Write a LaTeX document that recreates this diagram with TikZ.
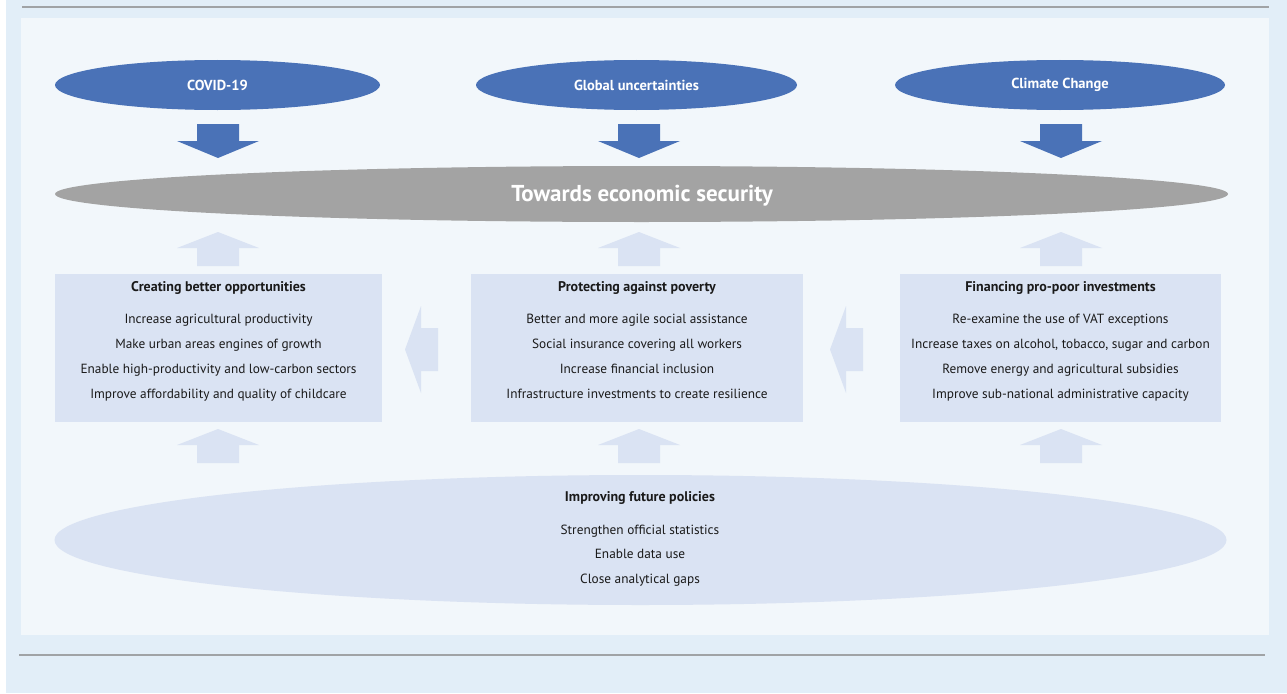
\documentclass[tikz,border=0pt]{standalone}
\usepackage{fontspec}
\setmainfont{PT Sans}
\usetikzlibrary{shapes.geometric}
\definecolor{outerbg}{HTML}{E2EEF8}
\definecolor{innerbg}{HTML}{F2F7FB}
\definecolor{ovblue}{HTML}{4A72B7}
\definecolor{ovgray}{HTML}{A3A3A3}
\definecolor{lightbox}{HTML}{DAE3F3}
\definecolor{rulegray}{HTML}{A0A3A6}
\definecolor{txt}{HTML}{1A1A1A}
\tikzset{
  blueoval/.style={ellipse, fill=ovblue, inner sep=0pt, minimum height=50pt, text=white, font=\bfseries\fontsize{14.5}{17}\selectfont},
  grayoval/.style={ellipse, fill=ovgray, inner sep=0pt, minimum width=1173pt, minimum height=56pt},
  graytxt/.style={inner sep=0pt, text=white, font=\bfseries\fontsize{23}{27}\selectfont, text height=16pt, text depth=5pt},
  lightoval/.style={ellipse, fill=lightbox, inner sep=0pt, minimum width=1172pt, minimum height=130pt},
  pbox/.style={rectangle, fill=lightbox, inner sep=0pt, minimum height=148pt},
  titletxt/.style={inner sep=0pt, text=txt, font=\bfseries\fontsize{14}{16}\selectfont, text height=10pt, text depth=3pt},
  itemtxt/.style={inner sep=0pt, text=txt, font=\fontsize{13.3}{16}\selectfont, text height=9.5pt, text depth=3pt},
  darrow/.style={fill=ovblue},
  larrow/.style={fill=lightbox},
}
\newcommand{\downarr}[1]{\fill[darrow] (#1-21,124) -- (#1+21,124) -- (#1+21,141) -- (#1+41,141) -- (#1,158) -- (#1-41,141) -- (#1-21,141) -- cycle;}
\newcommand{\uparr}[2]{\fill[larrow] (#1-21,#2+34) -- (#1+21,#2+34) -- (#1+21,#2+16) -- (#1+41,#2+16) -- (#1,#2) -- (#1-41,#2+16) -- (#1-21,#2+16) -- cycle;}
\newcommand{\leftarr}[1]{\fill[larrow] (#1,349.5) -- (#1+16,306) -- (#1+16,328) -- (#1+33,328) -- (#1+33,371) -- (#1+16,371) -- (#1+16,393) -- cycle;}
\begin{document}
\begin{tikzpicture}[x=1pt,y=-1pt]
\useasboundingbox (0,0) rectangle (1287,693);
% backgrounds
\fill[outerbg] (6,0) rectangle (1287,693);
\fill[innerbg] (21,18) rectangle (1269,635);
\draw[rulegray, line width=1.4pt] (22,7) -- (1269,7);
\draw[rulegray, line width=1.4pt] (19,655) -- (1265,655);
% top ovals
\node[blueoval, minimum width=325pt] (covid) at (217.5,85) {COVID-19};
\node[blueoval, minimum width=321pt] (glob) at (636.5,85) {Global uncertainties};
\node[blueoval, minimum width=330pt] (clim) at (1060,85) {Climate Change};
% down arrows
\downarr{218}
\downarr{639}
\downarr{1061}
% central oval
\node[grayoval] (sec) at (641.5,194) {};
\node[graytxt] (sect) at (642,196) {Towards economic security};
% up arrows to central oval
\uparr{218}{232}
\uparr{639}{232}
\uparr{1061}{232}
% boxes
\node[pbox, minimum width=327pt] (b1) at (218.5,348) {};
\node[pbox, minimum width=332pt] (b2) at (637,348) {};
\node[pbox, minimum width=321pt] (b3) at (1060.5,348) {};
% left arrows
\leftarr{405}
\leftarr{830}
% box texts
\node[titletxt] (b1t) at (218.5,288) {Creating better opportunities};
\foreach \t [count=\i] in {Increase agricultural productivity, Make urban areas engines of growth, Enable high-productivity and low-carbon sectors, Improve affordability and quality of childcare}
  \node[itemtxt] (b1l\i) at (218.5,295.5+25*\i) {\t};
\node[titletxt] (b2t) at (637,288) {Protecting against poverty};
\foreach \t [count=\i] in {Better and more agile social assistance, Social insurance covering all workers, Increase financial inclusion, Infrastructure investments to create resilience}
  \node[itemtxt] (b2l\i) at (637,295.5+25*\i) {\t};
\node[titletxt] (b3t) at (1060.5,288) {Financing pro-poor investments};
\foreach \t [count=\i] in {Re-examine the use of VAT exceptions, {Increase taxes on alcohol, tobacco, sugar and carbon}, Remove energy and agricultural subsidies, Improve sub-national administrative capacity}
  \node[itemtxt] (b3l\i) at (1060.5,295.5+25*\i) {\t};
% bottom up arrows
\uparr{218}{429}
\uparr{639}{429}
\uparr{1061}{429}
% bottom oval
\node[lightoval] (fut) at (640.5,540) {};
\node[titletxt] (futt) at (640,498) {Improving future policies};
\node[itemtxt] (fut1) at (640,531.5) {Strengthen official statistics};
\node[itemtxt] (fut2) at (640,555.5) {Enable data use};
\node[itemtxt] (fut3) at (640,580.5) {Close analytical gaps};
\end{tikzpicture}
\end{document}
